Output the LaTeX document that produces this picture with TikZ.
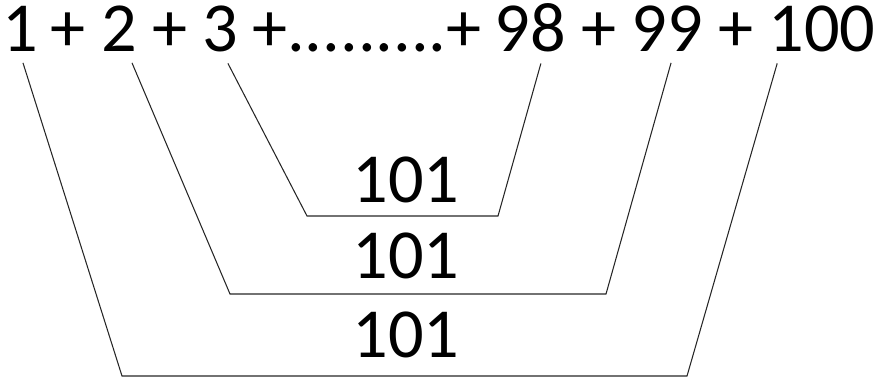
\documentclass[tikz,border=0pt]{standalone}
\usepackage{fontspec}
\setmainfont{Carlito}
\usepackage{tikz}
\usetikzlibrary{positioning,calc}
\newcommand{\sumfont}{\fontsize{40}{48}\selectfont}

\begin{document}
\begin{tikzpicture}[x=0.02cm,y=-0.02cm,
    term/.style={font=\sumfont,anchor=base,inner xsep=0pt,inner ysep=6pt},
    bracket/.style={line width=0.6pt,black!85}]
  \useasboundingbox (0,0) rectangle (874,378);
  % the row of terms
  \foreach \lab/\xc/\nm in {
      1/20/n1, +/68/p1, 2/119/n2, +/170/p2, 3/220/n3,
      {+.........+}/367/dots, 98/530/n98, +/599/p3,
      99/667/n99, +/736/p4, 100/822/n100} {
    \node[term] (\nm) at (\xc,52) {\lab};
  }
  % corners of the three brackets
  \foreach \nm/\xl/\xr/\yb in {o/122/687/376, m/230/606/294, i/307/498/216} {
    \coordinate (\nm l) at (\xl,\yb);
    \coordinate (\nm r) at (\xr,\yb);
  }
  \draw[bracket] ([xshift=1.7pt]n1.south) -- (ol) -- (or) -- ([xshift=-25.5pt]n100.south);
  \draw[bracket] ([xshift=7.4pt]n2.south) -- (ml) -- (mr) -- ([xshift=2.3pt]n99.south);
  \draw[bracket] ([xshift=4.5pt]n3.south) -- (il) -- (ir) -- ([xshift=6.2pt]n98.south);
  % the pair sums
  \foreach \yb [count=\i] in {202,278,357} {
    \node[term,inner ysep=0pt] (s\i) at (406,\yb) {101};
  }
\end{tikzpicture}
\end{document}
